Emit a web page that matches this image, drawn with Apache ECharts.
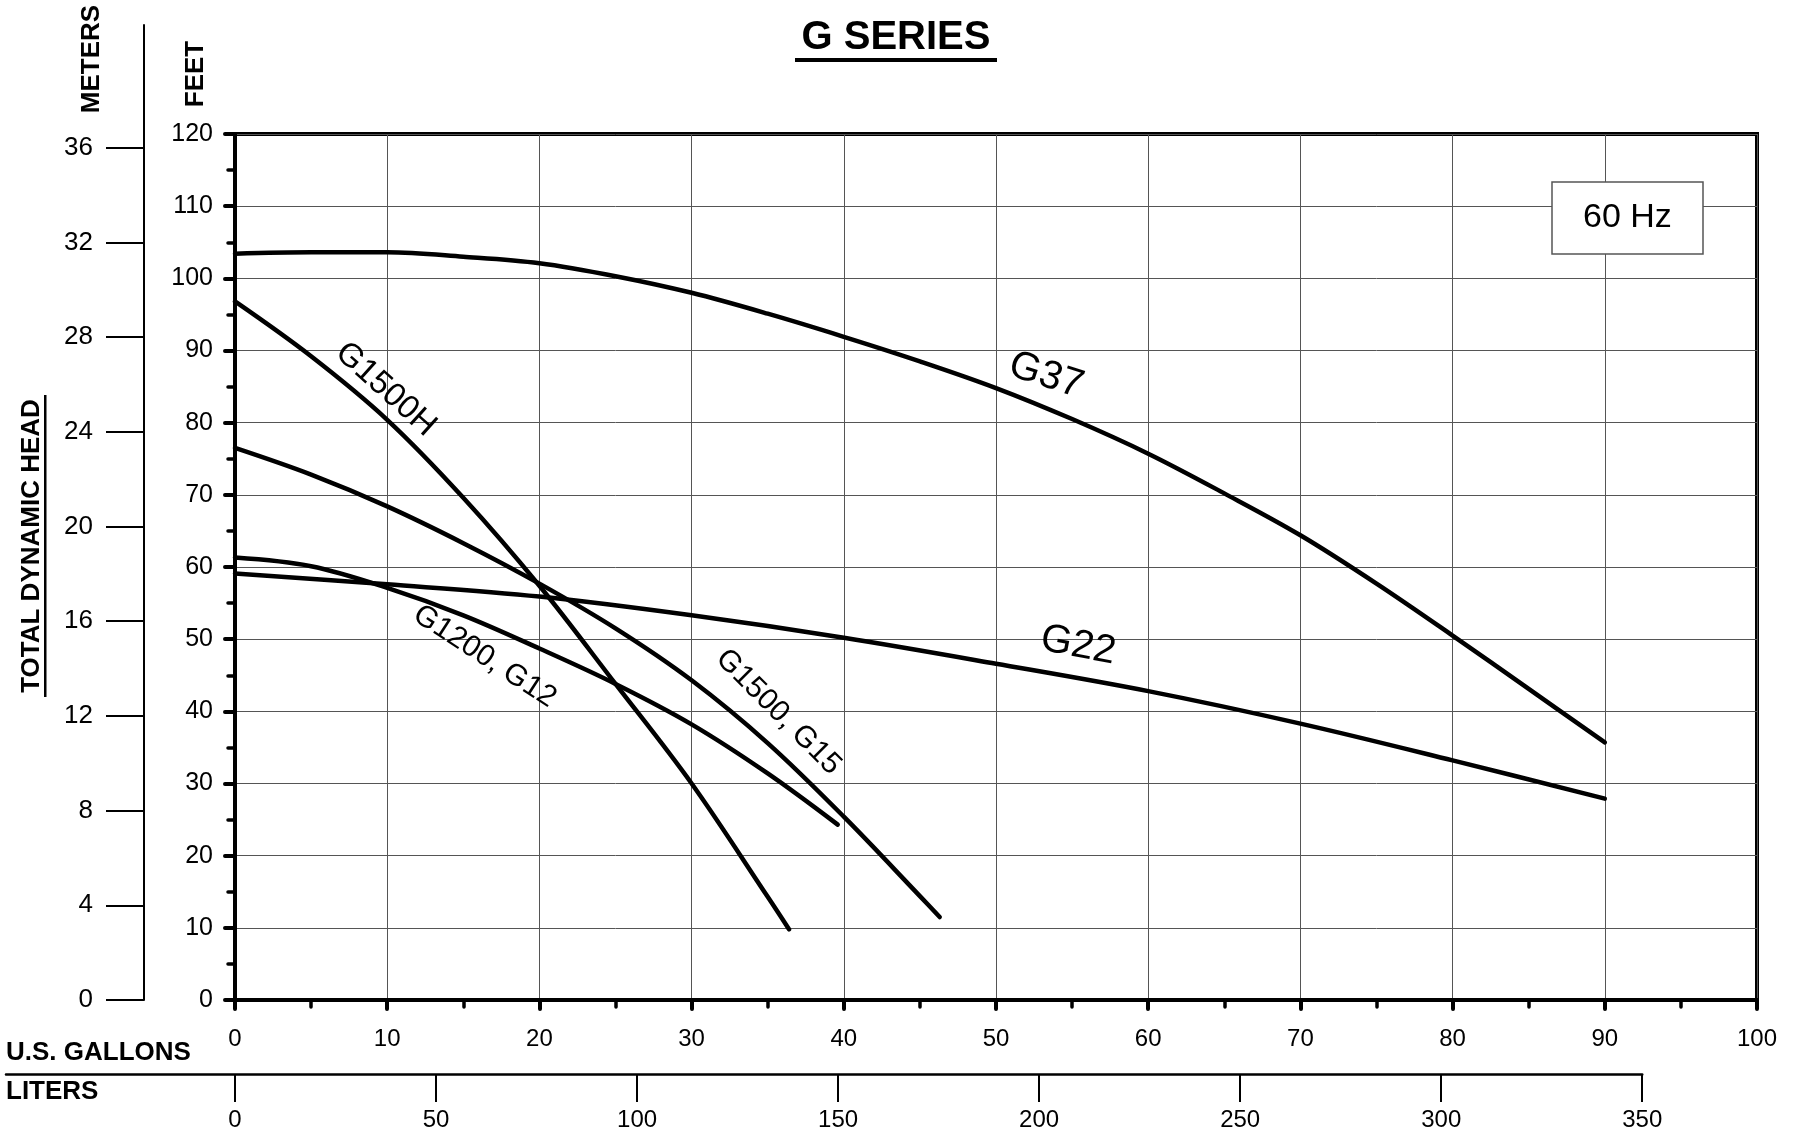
<!DOCTYPE html>
<html><head><meta charset="utf-8">
<script src="https://cdn.jsdelivr.net/npm/echarts@6/dist/echarts.min.js"></script>
<style>html,body{margin:0;padding:0;background:#fff}#c{width:1797px;height:1143px}</style>
</head><body><div id="c"></div>
<script>
// ---------- data ----------
const meterTicks = [0, 4, 8, 12, 16, 20, 24, 28, 32, 36];
const literTicks = [0, 50, 100, 150, 200, 250, 300, 350];

const G37 = [[0,103.4],[5,103.6],[10,103.6],[15,103.0],[20,102.1],[25,100.3],[30,98.0],[35,95.1],[40,91.9],[45,88.5],[50,84.8],[55,80.5],[60,75.7],[65,70.2],[70,64.4],[75,57.7],[80,50.5],[85,43.1],[90,35.7]];
const G22 = [[0,59.1],[10,57.6],[20,55.9],[30,53.3],[40,50.2],[50,46.6],[60,42.8],[70,38.3],[80,33.2],[90,27.9]];
const G1500H = [[0,96.8],[5,89.2],[10,80.4],[15,69.6],[20,57.4],[25,43.8],[30,30.0],[35,14.3],[36.4,9.8]];
const G1500_G15 = [[0,76.5],[5,72.8],[10,68.4],[15,63.3],[20,57.7],[25,51.5],[30,44.3],[35,35.6],[40,25.4],[45,14.4],[46.3,11.5]];
const G1200_G12 = [[0,61.3],[5,60.1],[10,57.1],[15,53.3],[20,48.7],[25,43.8],[30,38.2],[35,31.4],[39.6,24.3]];

const curveNames = ['G37', 'G22', 'G1500H', 'G1500, G15', 'G1200, G12'];
const curveData = [G37, G22, G1500H, G1500_G15, G1200_G12];

// curve label anchors in data units [gallons, feet]
const labelNames = ['G37', 'G22', 'G1500H', 'G1200, G12', 'G1500, G15'];
const labelPos = [[53.3, 86.5], [55.4, 49.1], [9.9, 84.6], [16.4, 47.6], [35.7, 39.9]];
const labelRot = [-18, -11, -42, -33, -45];
const labelSize = [40, 40, 33, 30, 30];

// ---------- layout ----------
const FT_PER_M = 3.28084, L_PER_GAL = 3.78541;
const W = 1797, H = 1143;
const PL = 235, PR = 1757, PT = 134, PB = 1000;
const meterTop = 25, meterX = 144;
const literY = 1074, literLeft = 6;
const pxPerL = (PR - PL) / (100 * L_PER_GAL);
const literMin = -(PL - literLeft) / pxPerL;
const literMax = 350;
const literRight = PL + literMax * pxPerL;
const metersMax = (120 / FT_PER_M) * (PB - meterTop) / (PB - PT);

const FONT = '"Liberation Sans", Arial, Helvetica, sans-serif';

const chart = echarts.init(document.getElementById('c'), null, {renderer: 'canvas'});

const lineSeries = curveData.map((d, i) => ({
  name: curveNames[i], type: 'line', data: d, smooth: 0.35, showSymbol: false,
  xAxisIndex: 0, yAxisIndex: 0, z: 5,
  lineStyle: {color: '#000', width: 4.5, cap: 'round'},
  emphasis: {disabled: true}
}));

const labelSeries = {
  type: 'scatter', xAxisIndex: 0, yAxisIndex: 0, symbolSize: 0, z: 6,
  silent: true,
  itemStyle: {opacity: 1, color: '#000'},
  data: labelNames.map((n, i) => ({
    name: n, value: labelPos[i],
    label: {
      show: true, position: 'inside', formatter: '{b}', rotate: labelRot[i],
      color: '#000', opacity: 1, textBorderWidth: 0, textBorderColor: 'transparent',
      fontSize: labelSize[i], fontFamily: FONT
    }
  }))
};

const option = {
  animation: false,
  backgroundColor: '#fff',
  title: [{
    text: '60 Hz', left: 1552, top: 182,
    borderColor: '#555', borderWidth: 1.5, backgroundColor: '#fff',
    padding: [18, 31],
    textStyle: {fontSize: 34, fontWeight: 'normal', color: '#000', fontFamily: FONT, lineHeight: 36}
  }],
  grid: [
    {left: PL, top: PT, width: PR - PL, height: PB - PT, show: true, borderColor: '#000', borderWidth: 4, backgroundColor: 'transparent'},
    {left: meterX, top: meterTop, width: 1, height: PB - meterTop},
    {left: literLeft, top: literY - 1, width: literRight - literLeft, height: 1}
  ],
  xAxis: [
    {
      gridIndex: 0, type: 'value', min: 0, max: 100, interval: 10,
      axisLine: {lineStyle: {color: '#000', width: 4}},
      axisTick: {length: 9, lineStyle: {color: '#000', width: 4, cap: 'round'}},
      minorTick: {show: true, splitNumber: 2, length: 7, lineStyle: {color: '#000', width: 3.5, cap: 'round'}},
      splitLine: {show: true, lineStyle: {color: '#555', width: 1}},
      axisLabel: {fontSize: 24, color: '#000', margin: 27, fontFamily: FONT}
    },
    {gridIndex: 1, type: 'value', show: false, min: 0, max: 1},
    {
      gridIndex: 2, type: 'value', min: literMin, max: literMax, position: 'bottom',
      axisLine: {lineStyle: {color: '#000', width: 2.5}},
      axisTick: {show: true, customValues: literTicks, length: 28, lineStyle: {color: '#000', width: 2}},
      axisLabel: {customValues: literTicks, fontSize: 24, color: '#000', margin: 34, fontFamily: FONT},
      splitLine: {show: false}
    }
  ],
  yAxis: [
    {
      gridIndex: 0, type: 'value', min: 0, max: 120, interval: 10,
      axisLine: {lineStyle: {color: '#000', width: 4}},
      axisTick: {length: 10, lineStyle: {color: '#000', width: 4, cap: 'round'}},
      minorTick: {show: true, splitNumber: 2, length: 7, lineStyle: {color: '#000', width: 3.5, cap: 'round'}},
      splitLine: {show: true, lineStyle: {color: '#555', width: 1}},
      axisLabel: {fontSize: 25, color: '#000', margin: 22, fontFamily: FONT}
    },
    {
      gridIndex: 1, type: 'value', min: 0, max: metersMax, position: 'left',
      axisLine: {show: true, lineStyle: {color: '#000', width: 2}},
      axisTick: {show: true, customValues: meterTicks, length: 38, lineStyle: {color: '#000', width: 2}},
      axisLabel: {customValues: meterTicks, fontSize: 26, color: '#000', margin: 51, fontFamily: FONT},
      splitLine: {show: false}
    },
    {gridIndex: 2, type: 'value', show: false, min: 0, max: 1}
  ],
  graphic: [
    {type: 'text', x: 896, y: 38, style: {text: 'G SERIES', font: 'bold 40px ' + FONT, fill: '#000', align: 'center', verticalAlign: 'middle'}},
    {type: 'rect', shape: {x: 795, y: 58, width: 202, height: 4}, style: {fill: '#000'}},
    {type: 'text', x: 92, y: 59, rotation: Math.PI / 2, style: {text: 'METERS', font: 'bold 26px ' + FONT, fill: '#000', align: 'center', verticalAlign: 'middle'}},
    {type: 'text', x: 196, y: 74, rotation: Math.PI / 2, style: {text: 'FEET', font: 'bold 26px ' + FONT, fill: '#000', align: 'center', verticalAlign: 'middle'}},
    {type: 'text', x: 32, y: 546, rotation: Math.PI / 2, style: {text: 'TOTAL DYNAMIC HEAD', font: 'bold 26px ' + FONT, fill: '#000', align: 'center', verticalAlign: 'middle'}},
    {type: 'rect', shape: {x: 44, y: 395, width: 2.5, height: 302}, style: {fill: '#000'}},
    {type: 'text', x: 6, y: 1053, style: {text: 'U.S. GALLONS', font: 'bold 26px ' + FONT, fill: '#000', align: 'left', verticalAlign: 'middle'}},
    {type: 'text', x: 6, y: 1092, style: {text: 'LITERS', font: 'bold 26px ' + FONT, fill: '#000', align: 'left', verticalAlign: 'middle'}}
  ],
  series: lineSeries.concat([labelSeries])
};
chart.setOption(option);
</script>
</body></html>
